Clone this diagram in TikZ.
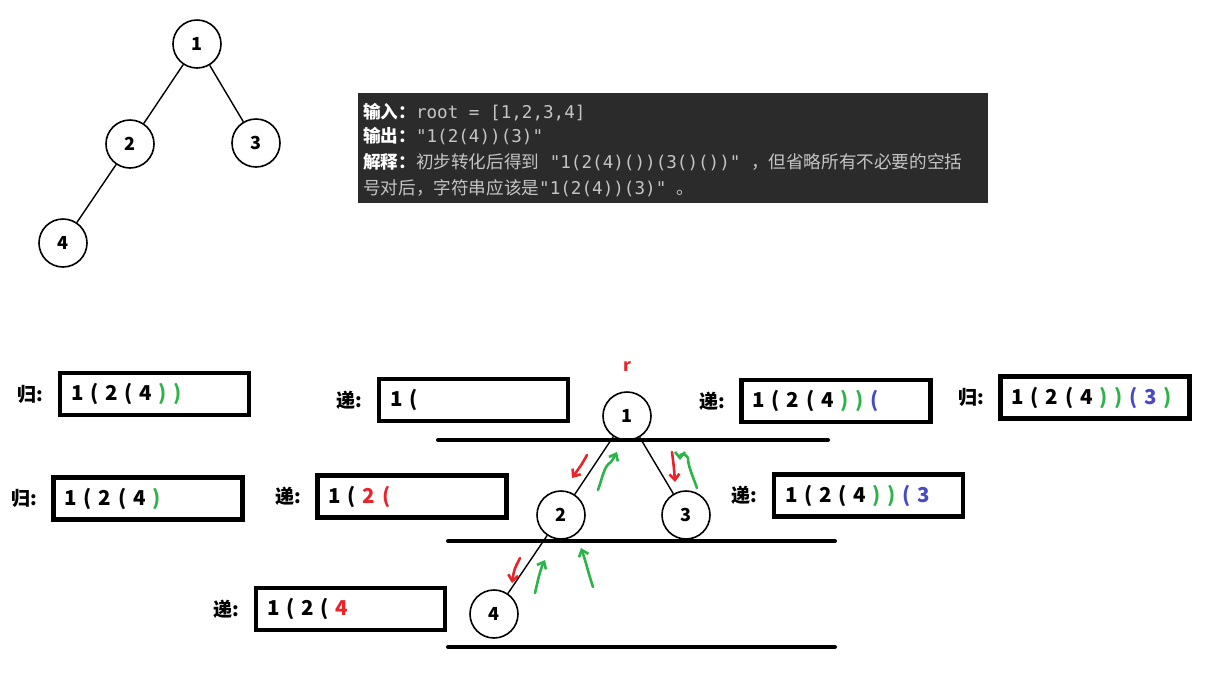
\documentclass[tikz,border=0pt]{standalone}
\usepackage{fontspec}
\setmainfont{Noto Sans CJK SC}
\setmonofont{DejaVu Sans Mono}
\usetikzlibrary{arrows.meta,positioning}

\definecolor{stepred}{HTML}{E8242A}
\definecolor{backgreen}{HTML}{2DB34A}
\definecolor{parblue}{HTML}{4848C8}
\definecolor{panel}{HTML}{2B2B2B}
\definecolor{panelgray}{HTML}{C4C4C4}

\newcommand{\gp}{\hspace{6.8pt}}
\newcommand{\gn}[1]{\textcolor{backgreen}{#1}}
\newcommand{\bl}[1]{\textcolor{parblue}{#1}}
\newcommand{\rd}[1]{\textcolor{stepred}{#1}}

\begin{document}
\begin{tikzpicture}[x=1pt, y=-1pt,
  treenode/.style={circle, draw, line width=1.6pt, minimum size=48pt, inner sep=0pt, font=\fontsize{18}{18}\selectfont\bfseries},
  edge/.style={line width=1.4pt},
  level/.style={line width=4pt, line cap=round},
  strbox/.style={draw, line width=4.5pt, minimum width=189pt, minimum height=42pt, inner xsep=11pt, text width=167pt, align=left, font=\fontsize{20.5}{20.5}\selectfont\bfseries},
  steplabel/.style={font=\fontsize{19}{19}\selectfont\bfseries, inner sep=0pt},
  paneltext/.style={anchor=west, inner sep=0pt, text=panelgray, font=\fontsize{17.6}{17.6}\selectfont},
  down/.style={stepred, line width=2.6pt, line cap=round, line join=round, -{Straight Barb[length=6pt, width=10pt]}},
  up/.style={backgreen, line width=2.6pt, line cap=round, line join=round, -{Straight Barb[length=6pt, width=10pt]}}]

\useasboundingbox (0,0) rectangle (1218,689);

% Example tree
\node[treenode] (t1) at (197,44) {1};
\node[treenode] (t2) at (130,144) {2};
\node[treenode] (t3) at (256,143) {3};
\node[treenode] (t4) at (63,243) {4};
\draw[edge] (t1) -- (t2);
\draw[edge] (t1) -- (t3);
\draw[edge] (t2) -- (t4);

% Problem panel
\fill[panel] (358,93) rectangle (988,203);
\node[paneltext] (in) at (363,112) {\textcolor{white}{\bfseries 输入：}\texttt{root = [1,2,3,4]}};
\node[paneltext] (out) at (363,136) {\textcolor{white}{\bfseries 输出：}\texttt{"1(2(4))(3)"}};
\node[paneltext] (ex1) at (363,162) {\textcolor{white}{\bfseries 解释：}初步转化后得到\texttt{ "1(2(4)())(3()())" }，但省略所有不必要的空括};
\node[paneltext] (ex2) at (363,188) {号对后，字符串应该是\texttt{"1(2(4))(3)" }。};

% Recursion tree
\node[treenode] (r1) at (627,416) {1};
\node[treenode] (r2) at (561,515) {2};
\node[treenode] (r3) at (686,515) {3};
\node[treenode] (r4) at (494,614) {4};
\node[text=stepred, font=\fontsize{17}{17}\selectfont\bfseries, above=16pt of r1] (rlab) {r};
\draw[edge] (r1) -- (r2);
\draw[edge] (r1) -- (r3);
\draw[edge] (r2) -- (r4);

% Levels
\draw[level] (438,440) -- (828,440);
\draw[level] (448,541) -- (835,541);
\draw[level] (448,647) -- (835,647);

% String boxes
\node[strbox] (b1) at (154.5,394) {1\gp(\gp 2\gp(\gp 4\gp\gn{)}\gp\gn{)}};
\node[strbox] (b2) at (473.5,400) {1\gp(};
\node[strbox] (b3) at (148,498.5) {1\gp(\gp 2\gp(\gp 4\gp\gn{)}};
\node[strbox] (b4) at (412,496.5) {1\gp(\gp\rd{2\gp(}};
\node[strbox] (b5) at (836,401) {1\gp(\gp 2\gp(\gp 4\gp\gn{)}\gp\gn{)}\gp\bl{(}};
\node[strbox] (b6) at (1095,397.5) {1\gp(\gp 2\gp(\gp 4\gp\gn{)}\gp\gn{)}\gp\bl{(\gp 3}\gp\gn{)}};
\node[strbox] (b7) at (868.5,495.5) {1\gp(\gp 2\gp(\gp 4\gp\gn{)}\gp\gn{)}\gp\bl{(\gp 3}};
\node[strbox] (b8) at (350.5,609) {1\gp(\gp 2\gp(\gp\rd{4}};

\node[steplabel, left=14pt of b1] (l1) {归:};
\node[steplabel, left=14pt of b2] (l2) {递:};
\node[steplabel, left=14pt of b3] (l3) {归:};
\node[steplabel, left=14pt of b4] (l4) {递:};
\node[steplabel, left=14pt of b5] (l5) {递:};
\node[steplabel, left=14pt of b6] (l6) {归:};
\node[steplabel, left=14pt of b7] (l7) {递:};
\node[steplabel, left=14pt of b8] (l8) {递:};

% Recursion (red) and return (green) marks
\draw[down] (587,455) .. controls (582,464) .. (572,478);
\draw[down] (672,452) .. controls (674,468) .. (675,482);
\draw[down] (520,558) .. controls (514,570) .. (512,583);
\draw[up] (598,490) .. controls (603,476) and (604,466) .. (611,462) .. controls (614,458) .. (617,452);
\draw[up] (697,488) .. controls (692,474) and (688,466) .. (688,458) .. controls (684,452) and (680,454) .. (680,460);
\draw[up] (535,593) .. controls (538,580) and (540,570) .. (545,560);
\draw[up] (593,587) .. controls (588,572) and (586,562) .. (581,548);

\end{tikzpicture}
\end{document}
